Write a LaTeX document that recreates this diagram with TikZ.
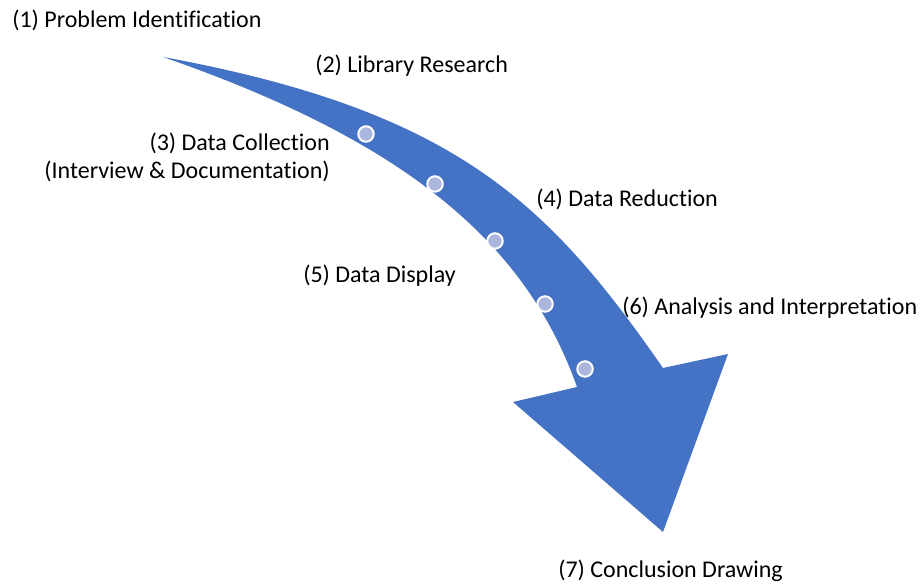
\documentclass[tikz,border=0pt]{standalone}
\usepackage{fontspec}
\setmainfont{Carlito}[Ligatures=NoCommon]
\usepackage{tikz}
\usetikzlibrary{shapes,arrows}

\tikzset{
  steplabel/.style={inner sep=0pt,font=\fontsize{18}{21}\selectfont},
  stepdot/.style={fill={rgb, 255:red, 170; green, 182; blue, 222 },draw=white,line width=1.5pt}
}

\begin{document}
\begin{tikzpicture}[x=0.75pt,y=0.75pt,yscale=-1,xscale=1]
    \useasboundingbox (0,0) rectangle (921,584);

    %Shape: Curved Arrow [id:arrow]
    \fill [fill={rgb, 255:red, 68; green, 114; blue, 196 }] (163,57) .. controls (457,111) and (549,204) .. (663,368) -- (728,354) -- (663,532) -- (513,402) -- (577,387) .. controls (525,240) and (402,140) .. (163,57) -- cycle ;

    %Dots
    \foreach \px/\py in {366/134, 435/184, 495/241, 545/304, 585/369}
      \draw [stepdot] (\px,\py) circle (5.8pt);

    % Text Node
    \draw (12,20) node [anchor=west][steplabel] (problem) {(1) Problem Identification};
    % Text Node
    \draw (315,66) node [anchor=west][steplabel] (library) {(2) Library Research};
    % Text Node
    \draw (330,157) node [anchor=east][steplabel,align=right] (collection) {(3) Data Collection\\(Interview \& Documentation)};
    % Text Node
    \draw (536,199) node [anchor=west][steplabel] (reduction) {(4) Data Reduction};
    % Text Node
    \draw (303,276) node [anchor=west][steplabel] (display) {(5) Data Display};
    % Text Node
    \draw (622,308) node [anchor=west][steplabel] (analysis) {(6) Analysis and Interpretation};
    % Text Node
    \draw (558,571) node [anchor=west][steplabel] (conclusion) {(7) Conclusion Drawing};

\end{tikzpicture}
\end{document}
